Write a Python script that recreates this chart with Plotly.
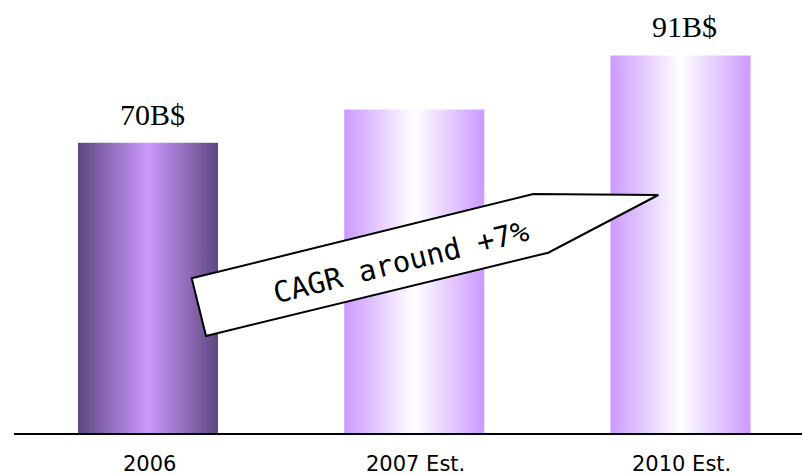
import plotly.graph_objects as go

# ---- data ----
categories = ["2006", "2007 Est.", "2010 Est."]
values = [70, 78, 91]              # billions of dollars
value_labels = ["70B$", "", "91B$"]
cagr_text = "CAGR around +7%"

# ---- styles ----
edge_colors = ["#5E4780", "#CC99FF", "#CC99FF"]
center_colors = ["#CC99FF", "#FFFFFF", "#FFFFFF"]
BAR_W = 0.526
W, H = 802, 475
MB = 41
PLOT_H = H - MB
PX_PER_CAT = 266.25
X0 = -148 / PX_PER_CAT
X1 = X0 + W / PX_PER_CAT
Y_TOP = PLOT_H / 4.16

fig = go.Figure()

for i, (cat, v) in enumerate(zip(categories, values)):
    xl, xr = i - BAR_W / 2, i + BAR_W / 2
    fig.add_trace(go.Scatter(
        x=[xl, xr, xr, xl, xl],
        y=[0, 0, v, v, 0],
        mode="lines",
        line=dict(width=0),
        fill="toself",
        fillgradient=dict(
            type="horizontal",
            start=xl, stop=xr,
            colorscale=[[0, edge_colors[i]], [0.5, center_colors[i]], [1, edge_colors[i]]],
        ),
        hoverinfo="skip",
        showlegend=False,
    ))

annotations = []
for i, (lab, v) in enumerate(zip(value_labels, values)):
    if lab:
        annotations.append(dict(
            x=i, y=v, xref="x", yref="y", text=lab, showarrow=False,
            xshift=4, yanchor="bottom", yshift=10,
            font=dict(family="Liberation Serif, Times New Roman, serif", size=30, color="black"),
        ))

for i, cat in enumerate(categories):
    annotations.append(dict(
        x=i, y=0, xref="x", yref="paper", text=cat, showarrow=False,
        yanchor="middle", yshift=-30, xshift=1, borderpad=0,
        font=dict(family="DejaVu Sans, sans-serif", size=21, color="black"),
    ))

# callout arrow (pixel positions converted to paper coords)
pts = [(191.7, 278.3), (533.3, 194), (658.3, 195), (548.3, 252.7), (206, 336)]
def to_paper(p):
    return p[0] / W, 1 - p[1] / PLOT_H
path = "M " + " L ".join(f"{to_paper(p)[0]:.5f},{to_paper(p)[1]:.5f}" for p in pts) + " Z"

shapes = [
    dict(type="line", xref="paper", yref="paper", x0=14 / W, x1=1, y0=0, y1=0,
         line=dict(color="black", width=2), layer="above"),
    dict(type="path", xref="paper", yref="paper", path=path,
         fillcolor="white", line=dict(color="black", width=2), layer="above"),
]

cx, cy = to_paper((401, 262))
annotations.append(dict(
    x=cx, y=cy, xref="paper", yref="paper", text=cagr_text, showarrow=False,
    textangle=-14, xanchor="center", yanchor="middle",
    font=dict(family="DejaVu Sans Mono, monospace", size=29, color="black"),
))

fig.update_layout(
    width=W, height=H,
    margin=dict(l=0, r=0, t=0, b=MB),
    paper_bgcolor="white", plot_bgcolor="white",
    xaxis=dict(range=[X0, X1], visible=False, fixedrange=True),
    yaxis=dict(range=[0, Y_TOP], visible=False, fixedrange=True),
    shapes=shapes,
    annotations=annotations,
    showlegend=False,
)

fig.write_html("out.html", config=dict(displayModeBar=False))
